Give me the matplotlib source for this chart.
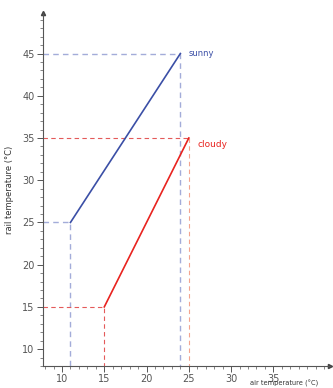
import matplotlib.pyplot as plt
from matplotlib.ticker import MultipleLocator

# air temperature -> rail temperature
sunny_air = [11, 24]
sunny_rail = [25, 45]
cloudy_air = [15, 25]
cloudy_rail = [15, 35]

x_ticks = [10, 15, 20, 25, 30, 35]
y_ticks = [10, 15, 20, 25, 30, 35, 40, 45]

blue = '#3b4fa6'
blue_light = '#a3acd9'
red = '#e8231f'
red_dash = '#e45a5a'
red_light = '#f4a48f'

fig = plt.figure(figsize=(3.33, 3.88), dpi=100)
ax = fig.add_axes([43 / 333, 22 / 388, 287 / 333, 353 / 388])

xmin, xmax = 7.75, 41.7
ymin, ymax = 8.0, 49.8
ax.set_xlim(xmin, xmax)
ax.set_ylim(ymin, ymax)

# guide lines
ax.plot([xmin, sunny_air[0], sunny_air[0]], [sunny_rail[0], sunny_rail[0], ymin],
        '--', color=blue_light, lw=1.0, dashes=(4, 3))
ax.plot([xmin, sunny_air[1], sunny_air[1]], [sunny_rail[1], sunny_rail[1], ymin],
        '--', color=blue_light, lw=1.0, dashes=(4, 3))
ax.plot([xmin, cloudy_air[0], cloudy_air[0]], [cloudy_rail[0], cloudy_rail[0], ymin],
        '--', color=red_dash, lw=0.8, dashes=(4, 3))
ax.plot([xmin, cloudy_air[1]], [cloudy_rail[1], cloudy_rail[1]],
        '--', color=red_dash, lw=0.8, dashes=(4, 3))
ax.plot([cloudy_air[1], cloudy_air[1]], [cloudy_rail[1], ymin],
        '--', color=red_light, lw=0.8, dashes=(4, 3))

ax.plot(sunny_air, sunny_rail, color=blue, lw=1.2)
ax.plot(cloudy_air, cloudy_rail, color=red, lw=1.2)

ax.text(sunny_air[1] + 1.0, sunny_rail[1], 'sunny', color=blue, fontsize=6, va='center')
ax.text(cloudy_air[1] + 1.0, cloudy_rail[1] - 0.8, 'cloudy', color=red, fontsize=6.5, va='center')

for s in ['top', 'right']:
    ax.spines[s].set_visible(False)
for s in ['left', 'bottom']:
    ax.spines[s].set_color('#555555')
    ax.spines[s].set_linewidth(0.8)

# arrow heads
ax.plot(1, 0, '>', color='#444444', ms=3, transform=ax.transAxes, clip_on=False)
ax.plot(0, 1, '^', color='#444444', ms=3, transform=ax.transAxes, clip_on=False)

ax.set_xticks(x_ticks)
ax.set_yticks(y_ticks)
ax.xaxis.set_minor_locator(MultipleLocator(1))
ax.yaxis.set_minor_locator(MultipleLocator(1))
ax.tick_params(which='major', length=4, width=0.7, color='#555555', labelsize=7,
               labelcolor='#555555', pad=2)
ax.tick_params(which='minor', length=2.5, width=0.5, color='#555555')

ax.set_ylabel('rail temperature (°C)', fontsize=6, color='#333333', labelpad=6)
fig.text(250 / 333, 4.5 / 388, 'air temperature (°C)', fontsize=4.8, color='#333333',
         va='center')

fig.savefig('out.png', dpi=100)
